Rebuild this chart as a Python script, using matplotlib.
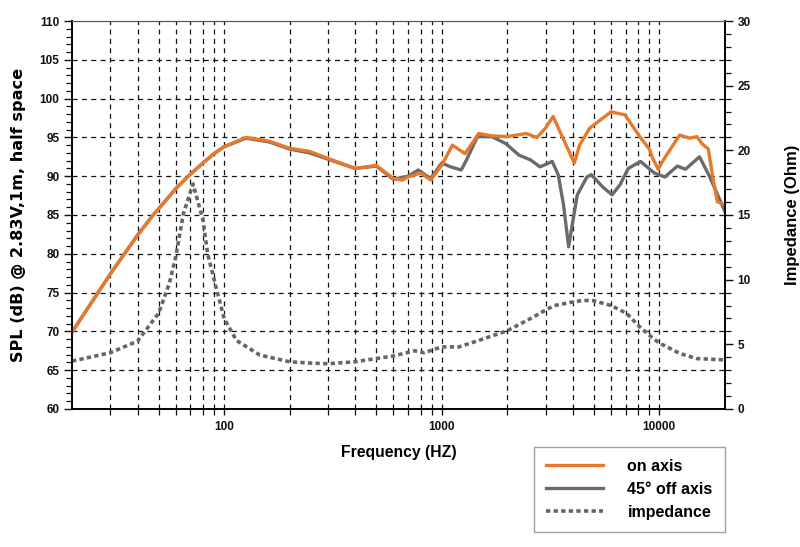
import numpy as np
import matplotlib.pyplot as plt
from matplotlib.ticker import MultipleLocator, FixedLocator, NullFormatter

plt.rcParams['font.family'] = ['Liberation Sans', 'DejaVu Sans']

# on axis SPL (dB)
f_on = [20, 30, 40, 47.5, 50, 60, 69, 80, 90, 100, 126, 162, 200, 247, 300, 400, 500,
        600, 660, 700, 800, 890, 1000, 1120, 1280, 1480, 1700, 2000, 2440, 2740, 3000,
        3250, 3580, 4070, 4300, 4790, 6000, 6950, 8130, 9000, 9330, 9880, 10450, 10900,
        12400, 13800, 14900, 15700, 16800, 17700, 18500, 20000]
spl_on = [69.9, 77.4, 82.4, 85.1, 85.8, 88.4, 90.1, 91.7, 92.95, 93.8, 95.0, 94.5, 93.6,
          93.2, 92.3, 91.0, 91.4, 89.7, 89.5, 89.9, 90.4, 89.5, 91.4, 94.0, 92.9, 95.5,
          95.2, 95.1, 95.5, 95.0, 96.2, 97.7, 95.1, 91.7, 94.0, 96.2, 98.3, 97.9, 95.1,
          93.5, 92.3, 90.9, 92.1, 92.9, 95.3, 94.9, 95.1, 94.2, 93.5, 89.5, 86.7, 86.3]

# 45 deg off axis SPL (dB)
f_off = [20, 30, 40, 47.5, 50, 60, 69, 80, 90, 100, 126, 162, 200, 247, 300, 400, 500,
         600, 700, 780, 890, 1000, 1100, 1230, 1300, 1460, 1700, 1970, 2270, 2560, 2830,
         3220, 3430, 3630, 3830, 4000, 4200, 4650, 4870, 5500, 6070, 6600, 7200, 8200,
         9500, 10600, 12100, 13200, 15300, 17000, 20000]
spl_off = [69.9, 77.4, 82.4, 85.1, 85.8, 88.4, 90.1, 91.7, 92.9, 93.8, 94.9, 94.4, 93.5,
           93.0, 92.2, 91.0, 91.3, 89.6, 90.0, 90.8, 89.7, 91.7, 91.2, 90.8, 92.1, 95.1,
           95.1, 94.2, 92.7, 92.1, 91.2, 91.9, 90.2, 86.3, 80.9, 84.1, 87.6, 89.9, 90.2,
           88.6, 87.6, 88.9, 91.0, 91.9, 90.4, 89.9, 91.3, 90.9, 92.5, 90.0, 85.5]

# impedance (Ohm)
f_imp = [20, 30, 40, 50, 56, 60, 65, 72, 80, 84, 90, 100, 114, 146, 200, 250, 300, 400,
         500, 600, 750, 830, 1000, 1200, 1480, 2000, 2630, 3000, 3300, 4080, 4500, 5000,
         6000, 7070, 8130, 9150, 10000, 12400, 14800, 20000]
imp = [3.7, 4.35, 5.25, 7.4, 9.7, 11.8, 15.1, 17.4, 14.6, 12.0, 10.0, 7.0, 5.3, 4.17,
       3.65, 3.55, 3.5, 3.65, 3.9, 4.1, 4.5, 4.35, 4.8, 4.8, 5.3, 6.05, 7.1, 7.65, 8.0,
       8.3, 8.4, 8.37, 8.0, 7.4, 6.35, 5.6, 5.1, 4.3, 3.9, 3.8]

fig = plt.figure(figsize=(8, 5.47), dpi=100)
ax = fig.add_axes([0.09, 0.2523, 0.816, 0.7093])
ax2 = ax.twinx()

orange = '#e8792c'
gray = '#6b6b6b'

l1, = ax.plot(f_on, spl_on, color=orange, lw=2.4, solid_joinstyle='round', zorder=4)
l2, = ax.plot(f_off, spl_off, color=gray, lw=2.4, solid_joinstyle='round', zorder=3)
l3, = ax2.plot(f_imp, imp, color='#666666', lw=2.6, linestyle=(0, (1.2, 0.9)))
l1.set_label('on axis')
l2.set_label('45° off axis')
l3.set_label('impedance')

ax.set_xscale('log')
ax.set_xlim(20, 20000)
ax.set_ylim(60, 110)
ax2.set_ylim(0, 30)

# grid: vertical at every log step, horizontal every 5 dB
gx = [m * 10 ** e for e in (1, 2, 3, 4) for m in range(1, 10) if 20 < m * 10 ** e < 20000]
ax.xaxis.set_major_locator(FixedLocator([100, 1000, 10000]))
ax.xaxis.set_minor_locator(FixedLocator(gx))
ax.xaxis.set_minor_formatter(NullFormatter())
ax.set_xticklabels(['100', '1000', '10000'])
for x in gx:
    ax.axvline(x, color='#111111', lw=0.9, ls=(0, (4, 3.5)), zorder=1)
ax.yaxis.set_major_locator(MultipleLocator(5))
ax.yaxis.set_minor_locator(MultipleLocator(1))
for y in range(65, 110, 5):
    ax.axhline(y, color='#111111', lw=0.9, ls=(0, (4, 3.5)), zorder=1)

ax2.yaxis.set_major_locator(MultipleLocator(5))
ax2.yaxis.set_minor_locator(MultipleLocator(1))

for a in (ax, ax2):
    a.tick_params(which='major', length=6, width=1.0, labelsize=8.5, pad=3, colors='#111111')
    a.tick_params(which='minor', length=4, width=0.9, colors='#111111')
    for lab in a.get_yticklabels():
        lab.set_fontweight('bold')
for lab in ax.get_xticklabels():
    lab.set_fontweight('bold')
ax.tick_params(axis='x', which='both', length=4, pad=5)

for s in ('left', 'bottom', 'right'):
    ax.spines[s].set_linewidth(1.2)
    ax2.spines[s].set_linewidth(1.2)
ax.spines['top'].set_color('#555555')
ax.spines['top'].set_linewidth(0.8)
ax2.spines['top'].set_color('#555555')
ax2.spines['top'].set_linewidth(0.8)

ax.set_xlabel('Frequency (HZ)', fontsize=11.3, fontweight='bold', labelpad=8)
ax.set_ylabel('SPL (dB) @ 2.83V,1m, half space', fontsize=11.6, fontweight='bold',
              family=['DejaVu Sans'], labelpad=10)
ax2.set_ylabel('Impedance (Ohm)', fontsize=12, fontweight='bold', labelpad=25)

leg = fig.legend(handles=[l1, l2, l3], loc='upper left', bbox_to_anchor=(534 / 800, 1 - 447 / 547),
                 frameon=True, fancybox=False, edgecolor='#888888', fontsize=11.5,
                 handlelength=3.6, handletextpad=1.5, borderpad=0.75, labelspacing=0.5,
                 borderaxespad=0)
leg.get_frame().set_linewidth(1.0)
for t in leg.get_texts():
    t.set_fontweight('bold')

fig.savefig('out.png', dpi=100)
